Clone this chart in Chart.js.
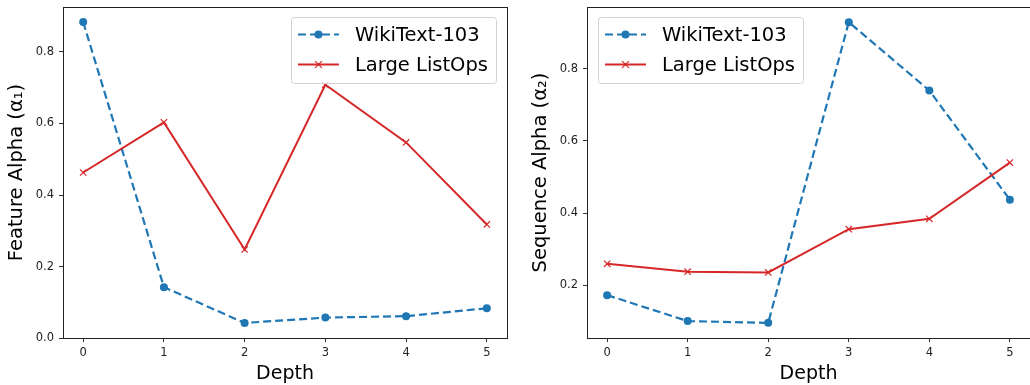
<!DOCTYPE html>
<html>
<head>
<meta charset="utf-8">
<script src="https://cdn.jsdelivr.net/npm/chart.js@4.4.0/dist/chart.umd.min.js"></script>
<style>
html,body{margin:0;padding:0;background:#fff;}
#wrap{position:relative;width:1030px;height:385px;overflow:hidden;}
canvas{position:absolute;top:-15px;}
#c1{left:0;}
#c2{left:515px;}
</style>
</head>
<body>
<div id="wrap">
<canvas id="c1" width="525" height="400"></canvas>
<canvas id="c2" width="535" height="400"></canvas>
</div>
<script>
const depth = [0, 1, 2, 3, 4, 5];
const seriesNames = ['WikiText-103', 'Large ListOps'];

// left panel: feature alpha
const featWiki = [0.883, 0.143, 0.043, 0.058, 0.062, 0.084];
const featListOps = [0.463, 0.603, 0.248, 0.708, 0.547, 0.318];

// right panel: sequence alpha
const seqWiki = [0.172, 0.100, 0.095, 0.930, 0.740, 0.437];
const seqListOps = [0.259, 0.237, 0.235, 0.355, 0.384, 0.540];

const xTicks = [0, 1, 2, 3, 4, 5];
const featTicks = [0.0, 0.2, 0.4, 0.6, 0.8];
const seqTicks = [0.2, 0.4, 0.6, 0.8];

const BLUE = '#1f77b4';
const RED = '#d62728';
const FONT = 'DejaVu Sans';

function pairs(xs, ys) {
    return xs.map((x, i) => ({ x: x, y: ys[i] }));
}

// box around the plot area, like matplotlib spines
const framePlugin = {
    id: 'frame',
    afterDatasetsDraw(chart) {
        const a = chart.chartArea, ctx = chart.ctx;
        ctx.save();
        ctx.strokeStyle = '#222';
        ctx.lineWidth = 1;
        ctx.strokeRect(Math.round(a.left) + 0.5, Math.round(a.top) + 0.5,
            Math.round(a.right - a.left), Math.round(a.bottom - a.top));
        ctx.restore();
    }
};

// legend with line + marker handles inside a rounded box
const boxLegend = {
    id: 'boxLegend',
    afterDraw(chart, args, opts) {
        const ctx = chart.ctx, a = chart.chartArea;
        const sets = chart.data.datasets;
        ctx.save();
        ctx.font = '19.5px "' + FONT + '"';
        const textW = Math.max(...sets.map(d => ctx.measureText(d.label).width));
        const padL = 7, handle = 41, gap = 16, padR = 8, h = 66;
        const w = padL + handle + gap + textW + padR;
        const x = opts.side === 'right' ? a.right - 11 - w : a.left + 11;
        const y = a.top + 10;

        ctx.beginPath();
        ctx.roundRect(x + 0.5, y + 0.5, w, h, 3);
        ctx.fillStyle = 'rgba(255,255,255,0.8)';
        ctx.fill();
        ctx.strokeStyle = '#d0d0d0';
        ctx.lineWidth = 1;
        ctx.stroke();

        sets.forEach((d, i) => {
            const cy = y + 17.5 + i * 30;
            const x0 = x + padL, x1 = x0 + handle, mx = (x0 + x1) / 2;
            ctx.strokeStyle = d.borderColor;
            ctx.lineWidth = d.borderWidth;
            ctx.setLineDash(d.borderDash || []);
            ctx.beginPath();
            ctx.moveTo(x0, cy);
            ctx.lineTo(x1, cy);
            ctx.stroke();
            ctx.setLineDash([]);
            if (d.pointStyle === 'circle') {
                ctx.fillStyle = d.pointBackgroundColor;
                ctx.beginPath();
                ctx.arc(mx, cy, d.pointRadius, 0, Math.PI * 2);
                ctx.fill();
            } else {
                const r = d.pointRadius * 0.75;
                ctx.strokeStyle = d.pointBorderColor;
                ctx.lineWidth = d.pointBorderWidth;
                ctx.beginPath();
                ctx.moveTo(mx - r, cy - r); ctx.lineTo(mx + r, cy + r);
                ctx.moveTo(mx - r, cy + r); ctx.lineTo(mx + r, cy - r);
                ctx.stroke();
            }
            ctx.fillStyle = '#000';
            ctx.textBaseline = 'middle';
            ctx.textAlign = 'left';
            ctx.fillText(d.label, x1 + gap, cy + 1);
        });
        ctx.restore();
    }
};

function makeChart(id, wiki, listops, yTitle, yTicks, yMin, yMax, side, padLeft, padRight) {
    const ctx = document.getElementById(id).getContext('2d');
    return new Chart(ctx, {
        type: 'line',
        data: {
            datasets: [
                {
                    label: seriesNames[0],
                    data: pairs(depth, wiki),
                    borderColor: BLUE,
                    borderWidth: 2.2,
                    borderDash: [8, 4],
                    pointStyle: 'circle',
                    pointRadius: 4,
                    pointBackgroundColor: BLUE,
                    pointBorderColor: BLUE,
                    pointBorderWidth: 0,
                    fill: false,
                    tension: 0,
                    order: 1
                },
                {
                    label: seriesNames[1],
                    data: pairs(depth, listops),
                    borderColor: RED,
                    borderWidth: 2,
                    pointStyle: 'crossRot',
                    pointRadius: 4.5,
                    pointBackgroundColor: RED,
                    pointBorderColor: RED,
                    pointBorderWidth: 1.2,
                    fill: false,
                    tension: 0,
                    order: 0
                }
            ]
        },
        options: {
            responsive: false,
            animation: false,
            devicePixelRatio: 1,
            // canvas sits 15px above the page top, so 22 here puts the plot top at 7
            layout: { padding: { top: 22, left: padLeft, right: padRight, bottom: 0 } },
            plugins: {
                legend: { display: false },
                tooltip: { enabled: false },
                boxLegend: { side: side }
            },
            scales: {
                x: {
                    type: 'linear',
                    min: -0.25,
                    max: 5.25,
                    afterBuildTicks: s => { s.ticks = xTicks.map(v => ({ value: v })); },
                    afterFit: s => { s.height = 47; },
                    grid: { drawOnChartArea: false, drawTicks: true, tickLength: 4, color: '#333' },
                    border: { display: false },
                    ticks: {
                        padding: 4,
                        color: '#222',
                        font: { family: FONT, size: 11.5 },
                        callback: v => String(v)
                    },
                    title: {
                        display: true,
                        text: 'Depth',
                        color: '#000',
                        font: { family: FONT, size: 19 },
                        padding: { top: 0, bottom: 0 }
                    }
                },
                y: {
                    type: 'linear',
                    min: yMin,
                    max: yMax,
                    afterBuildTicks: s => { s.ticks = yTicks.map(v => ({ value: v })); },
                    afterFit: s => { s.width = 63; },
                    grid: { drawOnChartArea: false, drawTicks: true, tickLength: 4, color: '#333' },
                    border: { display: false },
                    ticks: {
                        padding: 5,
                        color: '#222',
                        font: { family: FONT, size: 11.5 },
                        callback: v => v.toFixed(1)
                    },
                    title: {
                        display: true,
                        text: yTitle,
                        color: '#000',
                        font: { family: FONT, size: 19.5 },
                        padding: { top: 5, bottom: 0 }
                    }
                }
            }
        },
        plugins: [framePlugin, boxLegend]
    });
}

// left canvas is 525 wide: plot right edge at 507; right canvas is 535 wide: plot right edge at 1030
makeChart('c1', featWiki, featListOps, 'Feature Alpha (α₁)', featTicks, 0.001, 0.925, 'right', 0, 18);
makeChart('c2', seqWiki, seqListOps, 'Sequence Alpha (α₂)', seqTicks, 0.053, 0.972, 'left', 9, 20);
</script>
</body>
</html>
